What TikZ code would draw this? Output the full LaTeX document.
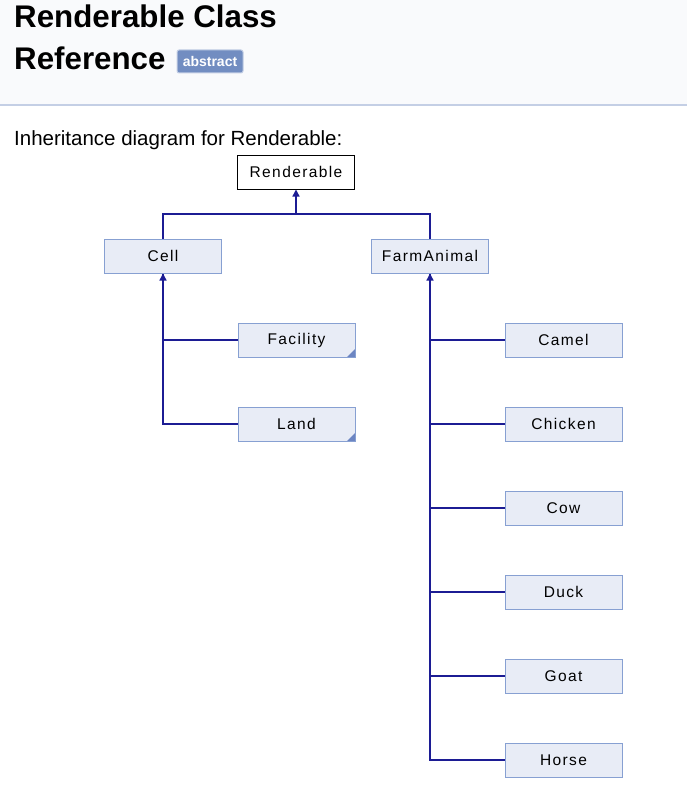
\documentclass[tikz,border=0pt]{standalone}
\usepackage{fontspec}
\setmainfont{Liberation Sans}
\newfontfamily\diagfont[LetterSpace=9]{Liberation Sans}
\usetikzlibrary{arrows.meta, positioning}

\definecolor{headerbg}{HTML}{F9FAFC}
\definecolor{headerline}{HTML}{C4CFE5}
\definecolor{boxfill}{HTML}{E8ECF6}
\definecolor{boxline}{HTML}{87A0D2}
\definecolor{edgecol}{HTML}{1C1C94}
\definecolor{badgefill}{HTML}{728DC1}
\definecolor{cornercol}{HTML}{6C85C2}

\begin{document}
\begin{tikzpicture}[x=1pt, y=-1pt,
    cls/.style={rectangle, minimum width=117pt, minimum height=34pt, inner sep=0pt, text centered, draw=boxline, fill=boxfill, line width=1pt, font=\diagfont\fontsize{15.5}{18}\selectfont},
    root/.style={cls, draw=black, fill=white},
    edge/.style={draw=edgecol, line width=1.3pt},
    arrow/.style={edge, -{Triangle[length=7pt, width=7pt]}},
    cut/.style={path picture={\fill[cornercol] (path picture bounding box.south east) -- ++(-8pt,0pt) -- ++(8pt,8pt) -- cycle;}}
]
    \useasboundingbox (0,0) rectangle (687,789);

    % Header
    \fill[headerbg] (0,0) rectangle (687,104);
    \draw[headerline, line width=1.5pt] (0,105) -- (687,105);
    \node[anchor=base west, inner sep=0pt, font=\bfseries\fontsize{31.3}{36}\selectfont] (title1) at (14,28) {Renderable Class};
    \node[anchor=base west, inner sep=0pt, font=\bfseries\fontsize{31.3}{36}\selectfont] (title2) at (14,70) {Reference};
    \node[rectangle, rounded corners=2pt, fill=badgefill, draw=headerline, line width=1pt, minimum width=66pt, minimum height=23pt, inner sep=0pt, text=white, font=\bfseries\fontsize{14}{16}\selectfont] (badge) at (210,61.5) {abstract};

    \node[anchor=base west, inner sep=0pt, font=\fontsize{20.5}{24}\selectfont] (caption) at (14,146) {Inheritance diagram for Renderable:};

    % Classes
    \node[root] (renderable) at (296,172) {Renderable};
    \node[cls] (cell) at (163,256) {Cell};
    \node[cls] (farmanimal) at (430,256) {FarmAnimal};

    \node[cls, cut] (facility) at (296.5,340) {Facility};
    \node[cls, cut] (land) at (296.5,424) {Land};

    \node[cls] (camel) at (563.5,340) {Camel};
    \node[cls] (chicken) at (563.5,424) {Chicken};
    \node[cls] (cow) at (563.5,508) {Cow};
    \node[cls] (duck) at (563.5,592) {Duck};
    \node[cls] (goat) at (563.5,676) {Goat};
    \node[cls] (horse) at (563.5,760) {Horse};

    % Inheritance
    \coordinate (topjoin) at (296,214);
    \draw[edge] (cell.north) |- (topjoin) -| (farmanimal.north);
    \draw[arrow] (topjoin) -- (renderable.south);

    \draw[edge] (facility.west) -| (cell.south);
    \draw[arrow] (land.west) -| (cell.south);

    \draw[edge] (camel.west) -| (farmanimal.south);
    \draw[edge] (chicken.west) -| (farmanimal.south);
    \draw[edge] (cow.west) -| (farmanimal.south);
    \draw[edge] (duck.west) -| (farmanimal.south);
    \draw[edge] (goat.west) -| (farmanimal.south);
    \draw[arrow] (horse.west) -| (farmanimal.south);

\end{tikzpicture}
\end{document}
